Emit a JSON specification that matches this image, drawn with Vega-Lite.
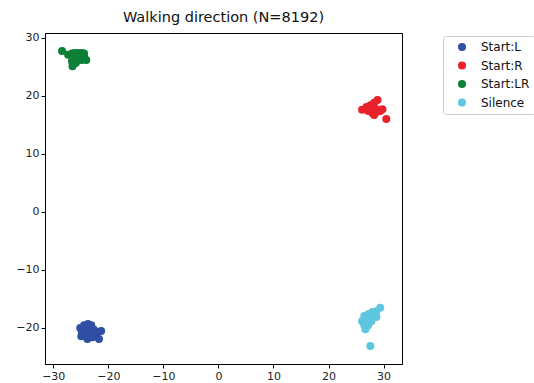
{
  "$schema": "https://vega.github.io/schema/vega-lite/v6.json",
  "width": 357,
  "height": 331,
  "autosize": "none",
  "padding": {"left": 45, "top": 33, "right": 132, "bottom": 19},
  "background": "white",
  "config": {
    "font": "DejaVu Sans",
    "view": {"stroke": "black", "strokeWidth": 1},
    "axis": {"grid": false, "domainColor": "black", "tickColor": "black", "labelColor": "#222", "labelFontSize": 11, "tickSize": 4, "labelPadding": 2, "title": null}
  },
  "title": {"text": "Walking direction (N=8192)", "fontSize": 14.5, "fontWeight": "normal", "color": "#111", "offset": 6},
  "data": {"values": [
    {"x": -28.4, "y": 27.75, "label": "Start:LR"},
    {"x": -27.3, "y": 27.1, "label": "Start:LR"},
    {"x": -26.6, "y": 27.3, "label": "Start:LR"},
    {"x": -26.1, "y": 27.4, "label": "Start:LR"},
    {"x": -25.5, "y": 27.4, "label": "Start:LR"},
    {"x": -24.8, "y": 27.4, "label": "Start:LR"},
    {"x": -24.4, "y": 27.3, "label": "Start:LR"},
    {"x": -25.9, "y": 26.7, "label": "Start:LR"},
    {"x": -25.1, "y": 26.7, "label": "Start:LR"},
    {"x": -24.4, "y": 26.7, "label": "Start:LR"},
    {"x": -24.0, "y": 26.2, "label": "Start:LR"},
    {"x": -25.5, "y": 26.2, "label": "Start:LR"},
    {"x": -24.8, "y": 26.2, "label": "Start:LR"},
    {"x": -26.6, "y": 26.0, "label": "Start:LR"},
    {"x": -25.9, "y": 25.7, "label": "Start:LR"},
    {"x": -26.5, "y": 25.1, "label": "Start:LR"},
    {"x": 26.1, "y": 17.6, "label": "Start:R"},
    {"x": 26.9, "y": 18.1, "label": "Start:R"},
    {"x": 27.6, "y": 18.4, "label": "Start:R"},
    {"x": 28.3, "y": 18.8, "label": "Start:R"},
    {"x": 28.9, "y": 19.3, "label": "Start:R"},
    {"x": 28.0, "y": 17.9, "label": "Start:R"},
    {"x": 28.7, "y": 17.7, "label": "Start:R"},
    {"x": 29.4, "y": 17.4, "label": "Start:R"},
    {"x": 27.2, "y": 17.4, "label": "Start:R"},
    {"x": 28.0, "y": 17.0, "label": "Start:R"},
    {"x": 28.7, "y": 17.2, "label": "Start:R"},
    {"x": 28.3, "y": 16.7, "label": "Start:R"},
    {"x": 29.8, "y": 17.7, "label": "Start:R"},
    {"x": 27.6, "y": 17.7, "label": "Start:R"},
    {"x": 30.5, "y": 16.0, "label": "Start:R"},
    {"x": -25.1, "y": -20.1, "label": "Start:L"},
    {"x": -24.4, "y": -19.6, "label": "Start:L"},
    {"x": -23.7, "y": -19.4, "label": "Start:L"},
    {"x": -23.1, "y": -19.6, "label": "Start:L"},
    {"x": -24.8, "y": -20.8, "label": "Start:L"},
    {"x": -24.0, "y": -20.4, "label": "Start:L"},
    {"x": -23.3, "y": -20.3, "label": "Start:L"},
    {"x": -22.6, "y": -20.4, "label": "Start:L"},
    {"x": -24.9, "y": -21.5, "label": "Start:L"},
    {"x": -24.2, "y": -21.5, "label": "Start:L"},
    {"x": -23.5, "y": -21.3, "label": "Start:L"},
    {"x": -22.8, "y": -21.1, "label": "Start:L"},
    {"x": -21.9, "y": -20.8, "label": "Start:L"},
    {"x": -21.3, "y": -20.6, "label": "Start:L"},
    {"x": -23.8, "y": -22.0, "label": "Start:L"},
    {"x": -21.7, "y": -22.0, "label": "Start:L"},
    {"x": -22.9, "y": -21.7, "label": "Start:L"},
    {"x": 29.4, "y": -16.6, "label": "Silence"},
    {"x": 28.7, "y": -17.2, "label": "Silence"},
    {"x": 28.0, "y": -17.3, "label": "Silence"},
    {"x": 27.2, "y": -17.7, "label": "Silence"},
    {"x": 26.5, "y": -18.0, "label": "Silence"},
    {"x": 27.6, "y": -18.4, "label": "Silence"},
    {"x": 28.3, "y": -17.8, "label": "Silence"},
    {"x": 26.9, "y": -18.5, "label": "Silence"},
    {"x": 26.1, "y": -18.9, "label": "Silence"},
    {"x": 26.9, "y": -19.1, "label": "Silence"},
    {"x": 27.8, "y": -18.9, "label": "Silence"},
    {"x": 26.5, "y": -19.6, "label": "Silence"},
    {"x": 26.7, "y": -20.3, "label": "Silence"},
    {"x": 27.2, "y": -19.6, "label": "Silence"},
    {"x": 27.6, "y": -23.2, "label": "Silence"},
    {"x": 28.7, "y": -18.2, "label": "Silence"}
  ]},
  "mark": {"type": "circle", "size": 64, "opacity": 1},
  "encoding": {
    "x": {"field": "x", "type": "quantitative", "scale": {"domain": [-31.5, 33.35], "nice": false, "zero": false}, "axis": {"values": [-30, -20, -10, 0, 10, 20, 30]}},
    "y": {"field": "y", "type": "quantitative", "scale": {"domain": [-26.3, 30.86], "nice": false, "zero": false}, "axis": {"values": [-20, -10, 0, 10, 20, 30]}},
    "color": {"field": "label", "type": "nominal", "title": null,
      "scale": {"domain": ["Start:L", "Start:R", "Start:LR", "Silence"], "range": ["#2f4ea4", "#e8212a", "#0d7f36", "#5ec6e0"]},
      "legend": {"orient": "none", "legendX": 398, "legendY": 3, "padding": 5, "symbolOffset": 8, "symbolSize": 64, "symbolType": "circle", "labelFontSize": 12, "labelColor": "#111", "labelOffset": 13, "rowPadding": 6.5, "strokeColor": "#ccc", "fillColor": "white", "cornerRadius": 3}
    }
  }
}
